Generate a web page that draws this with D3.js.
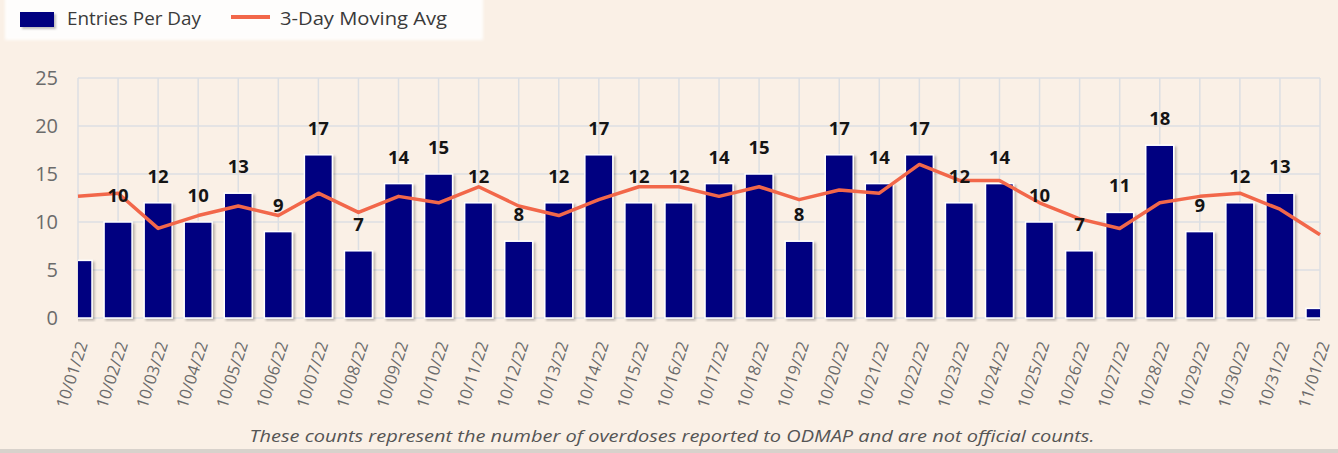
<!DOCTYPE html>
<html>
<head>
<meta charset="utf-8">
<script src="https://cdn.jsdelivr.net/npm/d3@7"></script>
<style>
  body { margin: 0; background: #faf0e6; font-family: "Open Sans", "DejaVu Sans", sans-serif; }
  svg { display: block; }
</style>
</head>
<body>
<div id="chart"></div>
<script>
// Chart data
const dates = ['10/01/22', '10/02/22', '10/03/22', '10/04/22', '10/05/22', '10/06/22', '10/07/22', '10/08/22',
    '10/09/22', '10/10/22', '10/11/22', '10/12/22', '10/13/22', '10/14/22', '10/15/22', '10/16/22',
    '10/17/22', '10/18/22', '10/19/22', '10/20/22', '10/21/22', '10/22/22', '10/23/22', '10/24/22',
    '10/25/22', '10/26/22', '10/27/22', '10/28/22', '10/29/22', '10/30/22', '10/31/22', '11/01/22'];
const entries = [6, 10, 12, 10, 13, 9, 17, 7, 14, 15, 12, 8, 12, 17, 12, 12,
    14, 15, 8, 17, 14, 17, 12, 14, 10, 7, 11, 18, 9, 12, 13, 1];
const movingAvg = [12.67, 13, 9.33, 10.67, 11.67, 10.67, 13, 11, 12.67, 12, 13.67, 11.67, 10.67, 12.33, 13.67, 13.67,
    12.67, 13.67, 12.33, 13.33, 13, 16, 14.33, 14.33, 12, 10.33, 9.33, 12, 12.67, 13, 11.33, 8.67];
const yTicks = [0, 5, 10, 15, 20, 25];

const width = 1338, height = 453;
const plot = { left: 78, right: 1320, top: 78, bottom: 318 };

const svg = d3.select('#chart')
    .append('svg')
    .attr('width', width)
    .attr('height', height);

// Shadow for bars
const defs = svg.append('defs');
const shadow = defs.append('filter')
    .attr('id', 'shadow')
    .attr('x', '-20%').attr('y', '-20%')
    .attr('width', '150%').attr('height', '150%');
shadow.append('feDropShadow')
    .attr('dx', 2).attr('dy', 2)
    .attr('stdDeviation', 1)
    .attr('flood-color', '#000')
    .attr('flood-opacity', 0.25);

const blur = defs.append('filter').attr('id', 'soft');
blur.append('feGaussianBlur').attr('stdDeviation', 1.5);

defs.append('clipPath')
    .attr('id', 'plot-clip')
    .append('rect')
    .attr('x', plot.left)
    .attr('y', 0)
    .attr('width', plot.right - plot.left)
    .attr('height', plot.bottom + 4);

// Scales
const x = d3.scalePoint()
    .domain(dates)
    .range([plot.left, plot.right]);

const y = d3.scaleLinear()
    .domain([0, 25])
    .range([plot.bottom, plot.top]);

const barWidth = 28;

// Gridlines
svg.append('g')
    .selectAll('line')
    .data(yTicks)
    .join('line')
    .attr('x1', plot.left)
    .attr('x2', plot.right)
    .attr('y1', d => y(d))
    .attr('y2', d => y(d))
    .attr('stroke', '#dcdfe3')
    .attr('stroke-width', 1.5);

svg.append('g')
    .selectAll('line')
    .data(dates)
    .join('line')
    .attr('x1', d => x(d))
    .attr('x2', d => x(d))
    .attr('y1', plot.top)
    .attr('y2', plot.bottom)
    .attr('stroke', '#dcdfe3')
    .attr('stroke-width', 1.5);

// Y axis
const yAxis = d3.axisLeft(y)
    .tickValues(yTicks)
    .tickSize(0)
    .tickPadding(20);

svg.append('g')
    .attr('transform', `translate(${plot.left},0)`)
    .call(yAxis)
    .call(g => g.select('.domain').remove())
    .selectAll('text')
    .attr('fill', '#6b6b6b')
    .style('font-size', '20px')
    .style('font-family', '"Open Sans", sans-serif');

// X axis
const xAxis = d3.axisBottom(x)
    .tickSize(0)
    .tickPadding(0);

svg.append('g')
    .attr('transform', `translate(0,${plot.bottom})`)
    .call(xAxis)
    .call(g => g.select('.domain').remove())
    .selectAll('text')
    .attr('fill', '#6b6b6b')
    .style('font-size', '16.5px')
    .style('font-family', '"Open Sans", sans-serif')
    .style('text-anchor', 'end')
    .attr('dy', '0.35em')
    .attr('transform', 'translate(4,24) rotate(-72)');

// Bars
svg.append('g')
    .attr('clip-path', 'url(#plot-clip)')
    .selectAll('rect')
    .data(entries)
    .join('rect')
    .attr('x', (d, i) => x(dates[i]) - barWidth / 2)
    .attr('y', d => y(d))
    .attr('width', barWidth)
    .attr('height', d => y(0) - y(d))
    .attr('fill', '#000080')
    .attr('stroke', '#ffffff')
    .attr('stroke-width', 1.5)
    .attr('filter', 'url(#shadow)');

// Moving average line
const line = d3.line()
    .x((d, i) => x(dates[i]))
    .y(d => y(d));

svg.append('path')
    .datum(movingAvg)
    .attr('fill', 'none')
    .attr('stroke', '#f2674a')
    .attr('stroke-width', 3.5)
    .attr('stroke-linejoin', 'round')
    .attr('d', line);

// Value labels (first and last hidden)
svg.append('g')
    .selectAll('text')
    .data(entries)
    .join('text')
    .filter((d, i) => i > 0 && i < entries.length - 1)
    .attr('x', (d, i) => x(dates[i + 1]))
    .attr('y', d => y(d) - 20)
    .attr('text-anchor', 'middle')
    .attr('fill', '#141414')
    .style('font-size', '18.5px')
    .style('font-weight', 'bold')
    .style('font-family', '"Open Sans", sans-serif')
    .text(d => d);

// Legend
const legend = svg.append('g');
legend.append('rect')
    .attr('x', 5).attr('y', -4)
    .attr('width', 478).attr('height', 44)
    .attr('fill', '#ffffff')
    .attr('opacity', 0.9)
    .attr('filter', 'url(#soft)');

legend.append('rect')
    .attr('x', 20).attr('y', 12)
    .attr('width', 34).attr('height', 15)
    .attr('fill', '#000080')
    .attr('filter', 'url(#shadow)');

legend.append('text')
    .attr('x', 67).attr('y', 25)
    .attr('fill', '#3a3a3a')
    .style('font-size', '18.5px')
    .attr('textLength', 134)
    .attr('lengthAdjust', 'spacingAndGlyphs')
    .text('Entries Per Day');

legend.append('line')
    .attr('x1', 231).attr('x2', 270)
    .attr('y1', 17).attr('y2', 17)
    .attr('stroke', '#f2674a')
    .attr('stroke-width', 4);

legend.append('text')
    .attr('x', 280).attr('y', 25)
    .attr('fill', '#3a3a3a')
    .style('font-size', '18.5px')
    .attr('textLength', 167)
    .attr('lengthAdjust', 'spacingAndGlyphs')
    .text('3-Day Moving Avg');

// Footnote
svg.append('text')
    .attr('x', 672).attr('y', 442)
    .attr('text-anchor', 'middle')
    .attr('fill', '#555555')
    .style('font-size', '17px')
    .style('font-style', 'italic')
    .attr('textLength', 845)
    .attr('lengthAdjust', 'spacingAndGlyphs')
    .text('These counts represent the number of overdoses reported to ODMAP and are not official counts.');

// Bottom border strip
svg.append('rect')
    .attr('x', 0).attr('y', 449)
    .attr('width', width).attr('height', 4)
    .attr('fill', '#d8d2cc');
</script>
</body>
</html>
